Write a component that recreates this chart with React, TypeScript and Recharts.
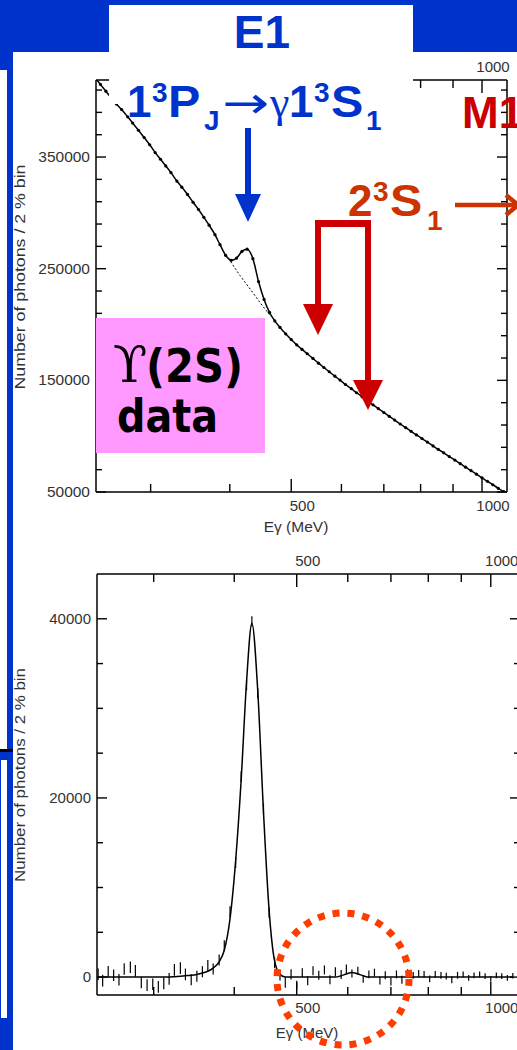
import React from 'react';
import { ComposedChart, Line, Scatter, XAxis, YAxis, ErrorBar } from 'recharts';

// ---- data ----
const binE = [246, 250, 255, 260, 265, 270, 276, 281, 287, 293, 299, 305, 311, 317, 323, 330, 336,
  343, 350, 357, 364, 371, 379, 386, 394, 402,
  410, 418, 426, 435, 444, 453, 462, 471, 480, 490,
  500, 510, 520, 530, 541, 552, 563, 574, 586, 597,
  609, 622, 634, 647, 660, 673, 686, 700, 714, 728,
  743, 758, 773, 788, 804, 820, 837, 853, 870, 888,
  906, 924, 942, 961, 980, 1000, 1020, 1040, 1061, 1082];

const topCounts = [420000, 415000, 409000, 403000, 397500, 392500, 386000, 380500, 374000, 367500, 361000, 354000, 348000, 342000, 336000, 328500, 323000,
  316500, 309500, 303000, 296000, 289000, 280500, 271500, 262000, 257500,
  259500, 265500, 267500, 259000, 238500, 222500, 211000, 203200, 197400, 191700,
  186500, 181800, 177700, 173800, 169600, 165400, 161500, 157700, 153700, 150200,
  146300, 142500, 138900, 135200, 131600, 128100, 124700, 121200, 117800, 114400,
  110900, 107600, 104300, 101100, 97900, 94700, 91300, 88200, 85100, 81700,
  78600, 75400, 72200, 69100, 66000, 62700, 59600, 56500, 53300, 50300];

const bgE = [398, 415, 431, 448, 465];
const bgCounts = [259500, 244000, 231600, 218500, 207000];

const fitCounts = [0, 0, 0, 0, 0, 0, 0, 0, 0, 0, 0, 0, 0, 0, 50, 100, 150,
  200, 300, 450, 650, 1000, 1700, 3000, 6500, 13000,
  22000, 33000, 39500, 32000, 18500, 7500, 1800, 300, 0, 0,
  0, 0, 0, 0, 0, 0, 0, 0, 150, 350,
  500, 350, 150, 0, 0, 0, 0, 0, 0, 0,
  0, 0, 0, 0, 0, 0, 0, 0, 0, 0,
  0, 0, 0, 0, 0, 0, 0, 0, 0, 0];

const resCounts = [300, -400, 600, 200, -300, 900, 1100, 700, -600, -900, -800, -1100, -700, -200, 800, 1000, 300,
  -300, 100, 600, 1300, 900, 1900, 3500, 7300, 12800,
  22400, 32600, 39700, 31700, 18800, 7200, 1600, 200, -600, 300,
  -900, 500, -400, 700, 200, 800, -300, 600, 300, 900,
  400, 700, -200, 300, 500, -400, 200, -500, 300, -300,
  500, 200, 400, 300, -200, 300, 200, 100, -300, 200,
  300, -100, 200, 300, 100, -200, 200, 100, -100, 150];

const resErr = [650, 650, 650, 650, 650, 650, 650, 650, 650, 650, 650, 650, 650, 650, 650, 650, 650,
  620, 620, 620, 620, 620, 620, 620, 620, 620,
  580, 580, 580, 580, 580, 580, 580, 580, 580, 580,
  500, 500, 500, 500, 500, 500, 500, 500, 500, 500,
  440, 440, 440, 440, 440, 440, 440, 440, 440, 440,
  380, 380, 380, 380, 380, 380, 380, 380, 380, 380,
  320, 320, 320, 320, 320, 320, 320, 320, 320, 320];

const xTicks = [300, 400, 500, 600, 700, 800, 900, 1000];
const xLabeled = [500, 1000];
const topYTicks = [50000, 70000, 90000, 110000, 130000, 150000, 170000, 190000, 210000, 230000,
  250000, 270000, 290000, 310000, 330000, 350000, 370000, 390000, 410000];
const topYLabeled = [50000, 150000, 250000, 350000];
const botYTicks = [0, 5000, 10000, 15000, 20000, 25000, 30000, 35000, 40000];
const botYLabeled = [0, 20000, 40000];

const topData = binE.map((e, i) => ({ e, v: topCounts[i] }));
const bgData = bgE.map((e, i) => ({ e, v: bgCounts[i] }));
const fitData = binE.map((e, i) => ({ e, v: fitCounts[i] }));
const resData = binE.map((e, i) => ({ e, v: resCounts[i], err: resErr[i] }));

const FONT = '"Liberation Sans", Arial, Helvetica, sans-serif';
const BLUE = '#0033cc';
const AXIS = { stroke: '#000', strokeWidth: 1.5 };

function xTick(side: 'top' | 'bottom', fontSize: number, labelDy: number) {
  return (p: any) => {
    const v = p.payload.value;
    const major = xLabeled.includes(v);
    const len = major ? 13 : 8;
    const dir = side === 'bottom' ? -1 : 1;
    return (
      <g>
        <line x1={p.x} x2={p.x} y1={p.y} y2={p.y + dir * len} stroke="#000" strokeWidth={1.4} />
        {major && (
          <text x={p.x + 11} y={side === 'bottom' ? p.y + labelDy : p.y - 8} textAnchor="middle"
            fontSize={fontSize} fill="#333" fontFamily={FONT}>{v}</text>
        )}
      </g>
    );
  };
}

function yTick(side: 'left' | 'right', labeled: number[], fontSize: number) {
  return (p: any) => {
    const v = p.payload.value;
    const major = labeled.includes(v);
    const len = major ? 10 : 6;
    const dir = side === 'left' ? 1 : -1;
    return (
      <g>
        <line x1={p.x} x2={p.x + dir * len} y1={p.y} y2={p.y} stroke="#000" strokeWidth={1.4} />
        {major && side === 'left' && (
          <text x={p.x - 6} y={p.y + 5} textAnchor="end" fontSize={fontSize} fill="#333" fontFamily={FONT}>{v}</text>
        )}
      </g>
    );
  };
}

const NoShape = () => <g />;

function TopChart() {
  return (
    <ComposedChart width={517} height={540} margin={{ top: 60, right: 0, bottom: 28, left: 56 }}>
      <XAxis xAxisId="b" dataKey="e" type="number" scale="log" domain={[246, 1095]} allowDataOverflow
        ticks={xTicks} interval={0} tickSize={0} tickMargin={0} tickLine={false} axisLine={AXIS}
        height={20} tick={xTick('bottom', 15, 19)} />
      <XAxis xAxisId="t" orientation="top" dataKey="e" type="number" scale="log" domain={[246, 1095]} allowDataOverflow
        ticks={xTicks} interval={0} tickSize={0} tickMargin={0} tickLine={false} axisLine={AXIS}
        height={20} tick={xTick('top', 15, 8)} />
      <YAxis yAxisId="l" type="number" domain={[50000, 419000]} allowDataOverflow ticks={topYTicks} interval={0}
        tickSize={0} tickMargin={0} tickLine={false} axisLine={AXIS} width={40} tick={yTick('left', topYLabeled, 15.5)} />
      <YAxis yAxisId="r" orientation="right" type="number" domain={[50000, 419000]} allowDataOverflow ticks={topYTicks} interval={0}
        tickSize={0} tickMargin={0} tickLine={false} axisLine={AXIS} width={10} tick={yTick('right', topYLabeled, 15.5)} />
      <Line data={bgData} xAxisId="b" yAxisId="l" dataKey="v" type="monotone" stroke="#000" strokeWidth={1}
        strokeDasharray="2 2" dot={false} isAnimationActive={false} />
      <Line data={topData} xAxisId="b" yAxisId="l" dataKey="v" type="monotone" stroke="#000" strokeWidth={1.5}
        dot={{ r: 1.6, fill: '#000', stroke: 'none' }} isAnimationActive={false} />
    </ComposedChart>
  );
}

function BottomChart() {
  return (
    <ComposedChart width={530} height={510} margin={{ top: 14, right: 0, bottom: 35, left: 57 }}>
      <XAxis xAxisId="b" dataKey="e" type="number" scale="log" domain={[245, 1110]} allowDataOverflow
        ticks={xTicks} interval={0} tickSize={0} tickMargin={0} tickLine={false} axisLine={AXIS}
        height={20} tick={xTick('bottom', 15, 18)} />
      <XAxis xAxisId="t" orientation="top" dataKey="e" type="number" scale="log" domain={[245, 1110]} allowDataOverflow
        ticks={xTicks} interval={0} tickSize={0} tickMargin={0} tickLine={false} axisLine={AXIS}
        height={20} tick={xTick('top', 15, 8)} />
      <YAxis yAxisId="l" type="number" domain={[-2000, 45000]} allowDataOverflow ticks={botYTicks} interval={0}
        tickSize={0} tickMargin={0} tickLine={false} axisLine={AXIS} width={40} tick={yTick('left', botYLabeled, 15)} />
      <YAxis yAxisId="r" orientation="right" type="number" domain={[-2000, 45000]} allowDataOverflow ticks={botYTicks} interval={0}
        tickSize={0} tickMargin={0} tickLine={false} axisLine={AXIS} width={10} tick={yTick('right', botYLabeled, 15)} />
      <Line data={fitData} xAxisId="b" yAxisId="l" dataKey="v" type="monotone" stroke="#000" strokeWidth={1.5}
        dot={false} isAnimationActive={false} />
      <Scatter data={resData} xAxisId="b" yAxisId="l" dataKey="v" shape={NoShape} isAnimationActive={false}>
        <ErrorBar dataKey="err" direction="y" width={0} stroke="#000" strokeWidth={1.2} isAnimationActive={false} />
      </Scatter>
    </ComposedChart>
  );
}

export default function App() {
  const bold = { fontFamily: FONT, fontWeight: 'bold' as const };
  const LA = 'spacingAndGlyphs';
  return (
    <div style={{ position: 'absolute', left: 0, top: 0, width: 517, height: 1050, overflow: 'hidden', background: BLUE }}>
      {/* white slide panel */}
      <div style={{ position: 'absolute', left: 13, top: 52, width: 504, height: 998, background: '#fff' }} />
      <div style={{ position: 'absolute', left: 0, top: 70, width: 7, height: 679, background: '#fff' }} />
      <div style={{ position: 'absolute', left: 0, top: 749, width: 13, height: 3, background: '#000' }} />
      <div style={{ position: 'absolute', left: 1, top: 760, width: 6, height: 258, background: '#fff' }} />

      <div style={{ position: 'absolute', left: 0, top: 0 }}><TopChart /></div>
      <div style={{ position: 'absolute', left: 0, top: 540 }}><BottomChart /></div>

      <svg width={517} height={1050} style={{ position: 'absolute', left: 0, top: 0 }}>
        {/* white title box covering the top of the upper plot */}
        <rect x={109} y={5} width={304} height={99} fill="#fff" />
        <text x={262} y={48} textAnchor="middle" fontSize={46} fill={BLUE} {...bold}>E1</text>

        {/* 1^3P_J -> gamma 1^3S_1 */}
        <g fill={BLUE}>
          <text x={127} y={117} fontSize={44} {...bold}>1</text>
          <text x={152} y={102} fontSize={28} {...bold}>3</text>
          <text transform="translate(168,117) scale(1.1,1)" fontSize={44} {...bold}>P</text>
          <text x={204} y={130} fontSize={28} {...bold}>J</text>
          <text x={222} y={118} fontSize={44} fontFamily="DejaVu Sans" textLength={47} lengthAdjust={LA}>→</text>
          <text x={270} y={117} fontSize={44} fontFamily="Liberation Serif, DejaVu Serif, serif">γ</text>
          <text x={289} y={117} fontSize={44} {...bold}>1</text>
          <text x={314} y={102} fontSize={28} {...bold}>3</text>
          <text transform="translate(331,117) scale(1.1,1)" fontSize={44} {...bold}>S</text>
          <text x={366} y={130} fontSize={28} {...bold}>1</text>
        </g>
        {/* blue arrow */}
        <rect x={245} y={128} width={6} height={68} fill={BLUE} />
        <polygon points="235,194 261,194 248,222" fill={BLUE} />

        {/* M1 */}
        <text x={462} y={128} fontSize={44} fill="#cc0000" {...bold}>M1</text>

        {/* 2^3S_1 -> */}
        <g fill="#cc3300">
          <text x={348} y={216} fontSize={44} {...bold}>2</text>
          <text x={373} y={201} fontSize={28} {...bold}>3</text>
          <text transform="translate(390,216) scale(1.1,1)" fontSize={44} {...bold}>S</text>
          <text x={427} y={230} fontSize={28} {...bold}>1</text>
        </g>
        <g stroke="#cc3300" strokeWidth={4.5} fill="none">
          <line x1={455} y1={205} x2={517} y2={205} />
          <path d="M506,195 L518,205 L506,215" />
        </g>

        {/* red bracket arrows */}
        <g fill="#cc0000">
          <rect x={315} y={220} width={56} height={7} />
          <rect x={315} y={220} width={6} height={86} />
          <polygon points="303,304 333,304 318,335" />
          <rect x={365} y={220} width={6} height={162} />
          <polygon points="353,380 383,380 368,410" />
        </g>

        {/* pink data box */}
        <rect x={96} y={318} width={169} height={135} fill="#ff99ff" />
        <text fill="#000">
          <tspan x={113} y={382} fontSize={50} fontFamily="DejaVu Serif, serif">ϒ</tspan>
          <tspan x={146} y={382} fontSize={46} fontFamily="DejaVu Sans, sans-serif" fontWeight="bold" textLength={97} lengthAdjust={LA}>(2S)</tspan>
        </text>
        <text x={117} y={432} fontSize={46} fill="#000" fontFamily="DejaVu Sans, sans-serif" fontWeight="bold" textLength={101} lengthAdjust={LA}>data</text>

        {/* axis titles */}
        <text x={296} y={532} textAnchor="middle" fontSize={15.5} fill="#333" fontFamily={FONT}>Eγ (MeV)</text>
        <text x={307} y={1038} textAnchor="middle" fontSize={15} fill="#333" fontFamily={FONT}>Eγ (MeV)</text>
        <text transform="translate(25,277) rotate(-90)" textAnchor="middle" fontSize={15} fill="#333" fontFamily={FONT}
          textLength={225} lengthAdjust={LA}>Number of photons / 2 % bin</text>
        <text transform="translate(25,775) rotate(-90)" textAnchor="middle" fontSize={15} fill="#333" fontFamily={FONT}
          textLength={214} lengthAdjust={LA}>Number of photons / 2 % bin</text>

        {/* red dotted circle */}
        <circle cx={343} cy={979} r={66} fill="none" stroke="#ff3c00" strokeWidth={7} strokeDasharray="7 8" />
      </svg>
    </div>
  );
}
